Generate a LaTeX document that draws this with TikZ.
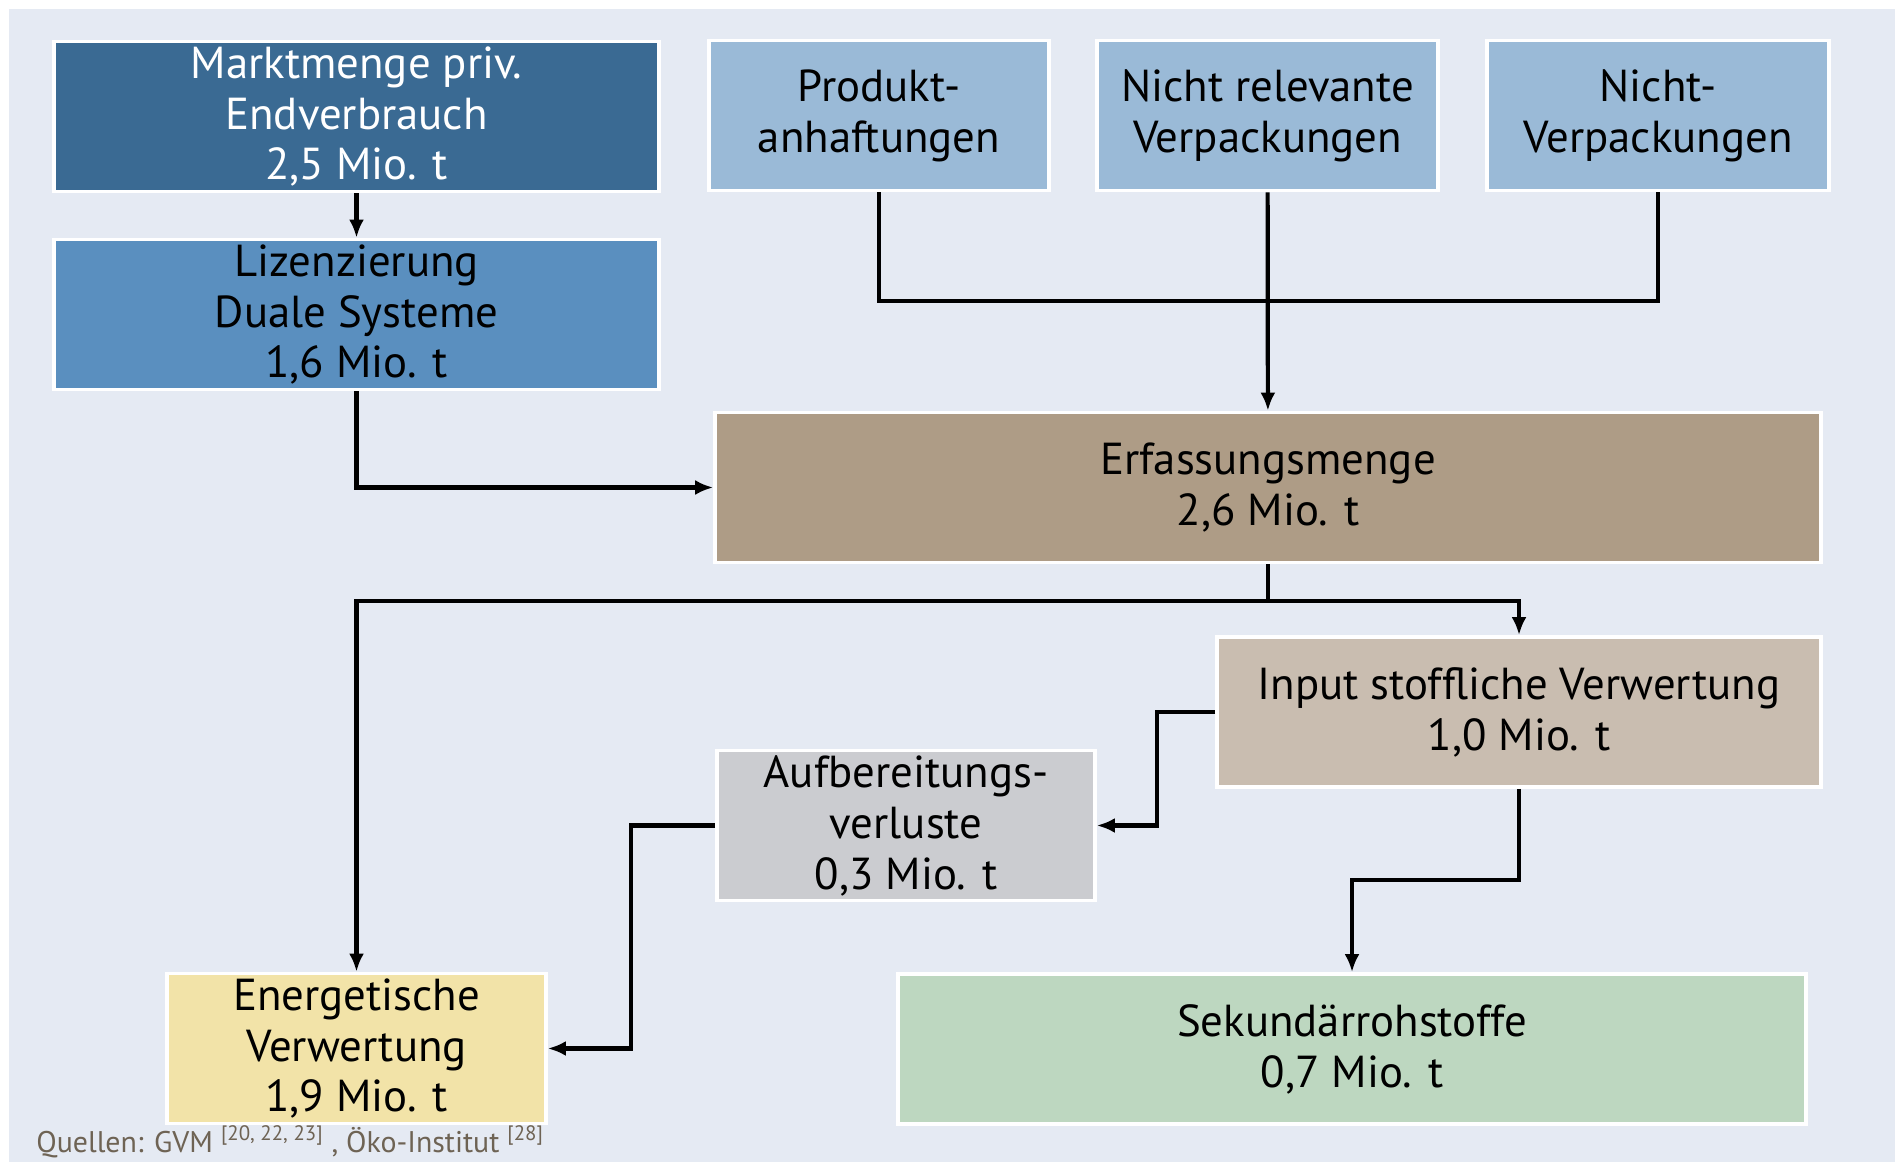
\documentclass[tikz,border=0pt]{standalone}
\usepackage{fontspec}
\setmainfont{PT Sans}
\usetikzlibrary{arrows.meta}

\definecolor{hgrund}{HTML}{E5EAF3}
\definecolor{markt}{HTML}{3A6A93}
\definecolor{lizenz}{HTML}{5A8FBF}
\definecolor{hellblau}{HTML}{9ABAD7}
\definecolor{erfass}{HTML}{AE9C86}
\definecolor{input}{HTML}{C9BDB0}
\definecolor{verlust}{HTML}{CBCCD0}
\definecolor{energ}{HTML}{F2E3A8}
\definecolor{sekund}{HTML}{BDD7C0}
\definecolor{quelle}{HTML}{6E6354}

\begin{document}
\begin{tikzpicture}[x=0.02cm,y=-0.02cm,
    box/.style={draw=white, line width=2.2pt, align=center, inner sep=0pt,
        minimum height=3cm, font=\fontsize{25.5}{29}\selectfont},
    pfeil/.style={line width=2.4pt, -{Latex[length=0.36cm,width=0.3cm]}},
    linie/.style={line width=2.4pt}]

    \useasboundingbox (0,0) rectangle (1895,1162);
    \fill[hgrund] (9,9) rectangle (1895,1162);

\node[box, fill=markt, text=white, minimum width=12.1cm] (markt) at (356.5,116.5) {Marktmenge priv.\\Endverbrauch\\2,5 Mio. t};
\node[box, fill=lizenz, minimum width=12.1cm] (lizenz) at (356.5,314.5) {Lizenzierung\\Duale Systeme\\1,6 Mio. t};

\node[box, fill=hellblau, minimum width=6.8cm] (produkt) at (879,115.5) {Produkt-\\anhaftungen};
\node[box, fill=hellblau, minimum width=6.82cm] (nrel) at (1267.5,115.5) {Nicht relevante\\Verpackungen};
\node[box, fill=hellblau, minimum width=6.84cm] (nverp) at (1658,115.5) {Nicht-\\Verpackungen};

\node[box, fill=erfass, minimum width=22.12cm] (erfass) at (1268,487.5) {Erfassungsmenge\\2,6 Mio. t};
\node[box, fill=input, minimum width=12.08cm] (input) at (1519,712) {Input stoffliche Verwertung\\1,0 Mio. t};
\node[box, fill=verlust, minimum width=7.56cm] (aufber) at (906,825.5) {Aufbereitungs-\\verluste\\0,3 Mio. t};

\node[box, fill=energ, minimum width=7.58cm] (energ) at (356.5,1048.5) {Energetische\\Verwertung\\1,9 Mio. t};
\node[box, fill=sekund, minimum width=18.16cm] (sek) at (1352,1049) {Sekundärrohstoffe\\0,7 Mio. t};

\node[anchor=base west, text=quelle, inner sep=0pt, font=\fontsize{17}{19}\selectfont] (quellen) at (36,1152)
    {Quellen: GVM \textsuperscript{[20, 22, 23]} , Öko-Institut \textsuperscript{[28]}};

% Zuflüsse
\draw[pfeil] (markt) -- (lizenz);
\draw[pfeil] (lizenz.south) |- (erfass.west);
\draw[linie] (produkt.south) |- (1658,301) -- (nverp.south);
\draw[pfeil] (nrel) -- (erfass);

% Aufteilung
\draw[linie] (erfass.south) -- (1268,601);
\draw[pfeil] (1268,601) -| (energ.north);
\draw[pfeil] (1268,601) -| (input.north);

\draw[pfeil] (input.west) -- (1157,712) |- (aufber.east);
\draw[pfeil] (aufber.west) -- (631,825.5) |- (energ.east);
\draw[pfeil] (input.south) -- (1519,880) -| (sek.north);

\end{tikzpicture}
\end{document}
